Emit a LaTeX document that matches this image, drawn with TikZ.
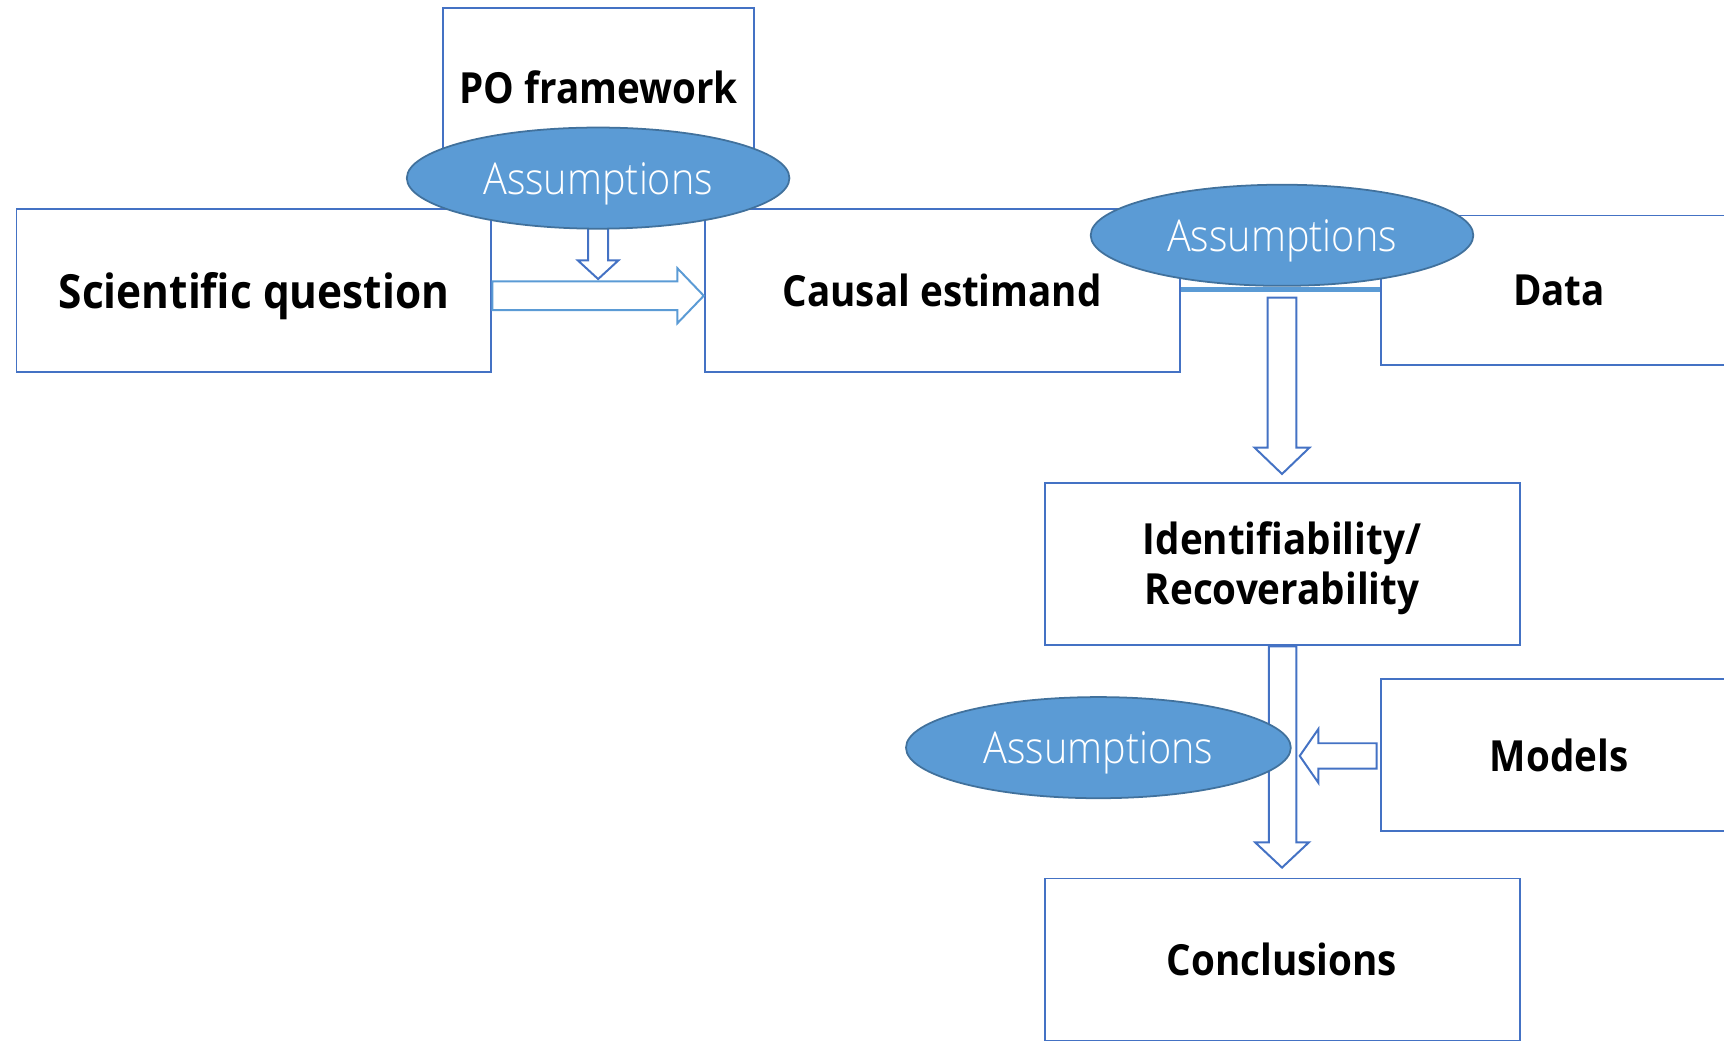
\documentclass[tikz,border=0pt]{standalone}
\usepackage{fontspec}
\setmainfont{Open Sans}[FakeStretch=0.9]
\newfontfamily\lightfont{Open Sans Light}[FakeStretch=0.9]
\usetikzlibrary{shapes.geometric,calc}
\definecolor{boxblue}{HTML}{4472C4}
\definecolor{ovalfill}{HTML}{5B9BD5}
\definecolor{ovalline}{HTML}{41719C}
\pgfdeclarelayer{back}
\pgfsetlayers{back,main}
% lower a label without changing the size used for centring
\newcommand{\lowered}[2]{\raisebox{-#1}[\height][\depth]{#2}}

\begin{document}
\begin{tikzpicture}[x=0.5pt,y=-0.5pt,
  box/.style={rectangle,draw=boxblue,line width=0.9pt,fill=white,inner sep=0pt,
    align=center,font=\fontsize{19.5}{22.5}\selectfont\bfseries},
  bigtext/.style={font=\fontsize{21.4}{25}\selectfont\bfseries},
  wide/.style={minimum width=216pt,minimum height=74pt},
  oval/.style={ellipse,draw=ovalline,line width=0.8pt,fill=ovalfill,text=white,
    minimum width=174pt,minimum height=46pt,inner sep=0pt,
    font=\lightfont\fontsize{20}{24}\selectfont},
  blockarrow/.style={draw=boxblue,line width=0.9pt,fill=white,line join=miter}]
\useasboundingbox (0,0) rectangle (1568,946);

% assumption ovals sit on top of everything else
\node[oval] (e1) at (544,162) {\lowered{2.5pt}{Assumptions}};
\node[oval] (e2) at (1166,214) {\lowered{2.5pt}{Assumptions}};
\node[oval,minimum width=175pt] (e3) at (999,680) {\lowered{2.5pt}{Assumptions}};

\begin{pgfonlayer}{back}
  % boxes
  \node[box,minimum width=141.5pt,minimum height=72pt] (po) at (544.5,79) {PO framework};
  \node[box,wide,bigtext] (sci) at (231,264) {\lowered{2.5pt}{Scientific question}};
  \node[box,wide] (causal) at (857,264) {Causal estimand};
  \node[box,minimum width=162pt,minimum height=68pt] (data) at (1418,264) {Data};
  \node[box,wide] (ident) at (1166,513) {\lowered{2pt}{Identifiability/}\\\lowered{2pt}{Recoverability}};
  \node[box,minimum width=162pt,minimum height=69pt] (models) at (1418,687) {Models};
  \node[box,wide] (concl) at (1166,873) {Conclusions};

  % link between causal estimand and data
  \draw[ovalfill,line width=2.2pt] ($(causal.east)+(0,-1)$) -- ($(data.west)+(0,-1)$);

  % small arrow below the first oval
  \draw[blockarrow] ($(e1.south)+(-9,-6)$) -- ($(e1.south)+(-9,28)$)
    -- ($(e1.south)+(-18.5,28)$) -- ($(e1.south)+(0,45)$)
    -- ($(e1.south)+(18.5,28)$) -- ($(e1.south)+(9,28)$) -- ($(e1.south)+(9,-6)$);

  % scientific question -> causal estimand
  \draw[blockarrow,draw=ovalfill] ($(sci.east)+(0,-8)$) -- ($(causal.west)+(-24,-8)$)
    -- ($(causal.west)+(-24,-20)$) -- ($(causal.west)+(0,5)$)
    -- ($(causal.west)+(-24,30)$) -- ($(causal.west)+(-24,18)$)
    -- ($(sci.east)+(0,18)$) -- cycle;

  % assumptions -> identifiability
  \draw[blockarrow] ($(e2.south)+(-13,10)$) -- ($(ident.north)+(-13,-31)$)
    -- ($(ident.north)+(-25,-31)$) -- ($(ident.north)+(0,-7)$)
    -- ($(ident.north)+(25,-31)$) -- ($(ident.north)+(13,-31)$)
    -- ($(e2.south)+(13,10)$) -- cycle;

  % identifiability -> conclusions
  \draw[blockarrow] ($(ident.south)+(-12,0)$) -- ($(concl.north)+(-12,-32)$)
    -- ($(concl.north)+(-24.5,-32)$) -- ($(concl.north)+(0,-9)$)
    -- ($(concl.north)+(24.5,-32)$) -- ($(concl.north)+(13,-32)$)
    -- ($(ident.south)+(13,0)$) -- cycle;

  % models -> main flow
  \draw[blockarrow] ($(models.west)+(-3,-11)$) -- ($(models.west)+(-56,-11)$)
    -- ($(models.west)+(-56,-24)$) -- ($(models.west)+(-73,0.5)$)
    -- ($(models.west)+(-56,25)$) -- ($(models.west)+(-56,12)$)
    -- ($(models.west)+(-3,12)$) -- cycle;
\end{pgfonlayer}
\end{tikzpicture}
\end{document}
